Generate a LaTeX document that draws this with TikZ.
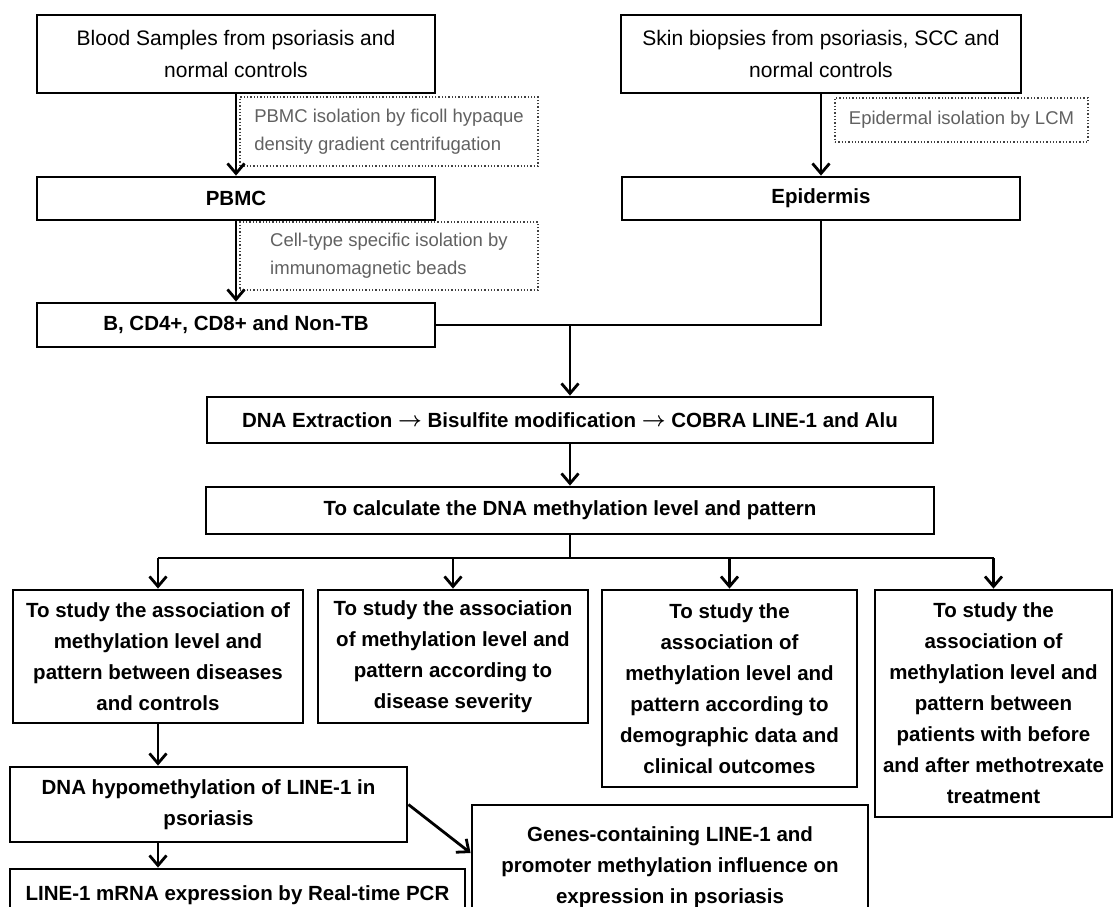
\documentclass[tikz,border=0pt]{standalone}
\usepackage{fontspec}
\setmainfont{Liberation Sans}
\usetikzlibrary{arrows.meta,calc}
\newcommand{\rarr}{\raisebox{0.5pt}{$\boldsymbol{\rightarrow}$}}
\usepackage{amsmath}
\begin{document}
\begin{tikzpicture}[x=1pt,y=-1pt,
  box/.style={draw, line width=2.8pt, inner sep=0pt, align=center,
    font=\fontsize{20.5}{31}\selectfont\bfseries},
  srcbox/.style={box, font=\fontsize{21}{32}\selectfont},
  note/.style={draw=black!75, dotted, line width=1.3pt, inner sep=0pt, align=left,
    text=black!62, font=\fontsize{18.5}{28}\selectfont},
  ln/.style={line width=2.8pt},
  arr/.style={line width=2.8pt, -{Straight Barb[length=10pt,width=17pt]}}
]
\fill[white] (0,0) rectangle (1114,906);
\useasboundingbox (0,0) rectangle (1114,906);

% left column
\node[srcbox, minimum width=398pt, minimum height=78pt] (blood) at (236,54)
  {Blood Samples from psoriasis and\\normal controls};
\node[note, minimum width=298pt, minimum height=69pt] (n1) at (389,131.5)
  {PBMC isolation by ficoll hypaque\\density gradient centrifugation};
\node[box, minimum width=398pt, minimum height=43pt] (pbmc) at (236,198.5) {PBMC};
\node[note, minimum width=298pt, minimum height=68pt] (n2) at (389,256)
  {Cell-type specific isolation by\\immunomagnetic beads};
\node[box, minimum width=398pt, minimum height=44pt] (bcd) at (236,325)
  {B, CD4+, CD8+ and Non-TB};

% right column
\node[srcbox, minimum width=400pt, minimum height=78pt] (skin) at (821,54)
  {Skin biopsies from psoriasis, SCC and\\normal controls};
\node[note, minimum width=253pt, minimum height=44pt] (n3) at (961.5,120)
  {Epidermal isolation by LCM};
\node[box, minimum width=398pt, minimum height=43pt] (epi) at (821,198.5) {Epidermis};

% middle
\node[box, minimum width=726pt, minimum height=46pt] (dna) at (570,420)
  {DNA Extraction \rarr{} Bisulfite modification \rarr{} COBRA LINE-1 and Alu};
\node[box, minimum width=728pt, minimum height=47pt] (calc) at (570,510.5)
  {To calculate the DNA methylation level and pattern};

% study boxes
\node[box, minimum width=290pt, minimum height=133pt] (sa) at (158,656.5)
  {To study the association of\\methylation level and\\pattern between diseases\\and controls};
\node[box, minimum width=270pt, minimum height=133pt] (sb) at (453,656.5)
  {To study the association\\of methylation level and\\pattern according to\\disease severity};
\node[box, minimum width=255pt, minimum height=197pt] (sc) at (729.5,688.5)
  {To study the\\association of\\methylation level and\\pattern according to\\demographic data and\\clinical outcomes};
\node[box, minimum width=237pt, minimum height=227pt] (sd) at (993.5,703.5)
  {To study the\\association of\\methylation level and\\pattern between\\patients with before\\and after methotrexate\\treatment};

% bottom
\node[box, minimum width=397pt, minimum height=75pt] (hypo) at (208.5,804.5)
  {DNA hypomethylation of LINE-1 in\\psoriasis};
\node[box, minimum width=455pt, minimum height=52pt] (line1) at (237.5,895)
  {LINE-1 mRNA expression by Real-time PCR};
\node[box, minimum width=396pt, minimum height=124pt] (genes) at (670,867)
  {Genes-containing LINE-1 and\\promoter methylation influence on\\expression in psoriasis};

% connectors
\draw[arr] (blood.south) -- (pbmc.north);
\draw[arr] (pbmc.south) -- (bcd.north);
\draw[arr] (skin.south) -- (epi.north);
\draw[ln] (epi.south) |- (bcd.east);
\coordinate (merge) at (570,325);
\draw[arr] (merge) -- (dna.north);
\draw[arr] (dna.south) -- (calc.north);
\coordinate (split) at (570,558);
\draw[ln] (calc.south) -- (split);
\draw[ln] (sa.north |- split) -- (sd.north |- split);
\draw[arr] (sa.north |- split) -- (sa.north);
\draw[arr] (sb.north |- split) -- (sb.north);
\draw[arr] (sc.north |- split) -- (sc.north);
\draw[arr] (sd.north |- split) -- (sd.north);
\draw[arr] (sa.south) -- (sa.south |- hypo.north);
\draw[arr] (sa.south |- hypo.south) -- (sa.south |- line1.north);
\draw[arr] (hypo.east) -- ($(genes.west)+(0,-14)$);
\end{tikzpicture}
\end{document}
